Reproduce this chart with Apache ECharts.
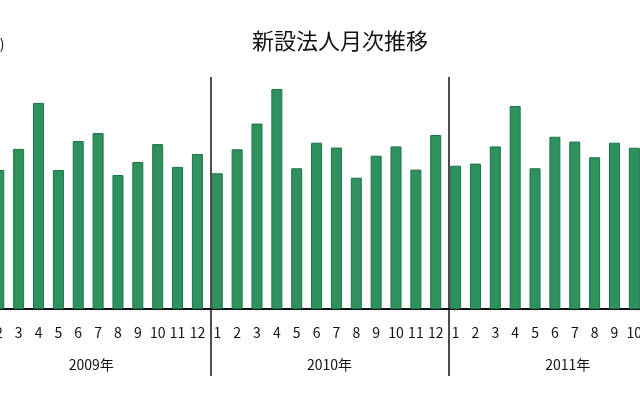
<!DOCTYPE html>
<html lang="ja">
<head>
    <meta charset="UTF-8">
    <title>新設法人月次推移</title>
    <style>
        html, body { margin: 0; padding: 0; background: #fff; }
        #chart { width: 640px; height: 400px; }
    </style>
</head>
<body>
<div id="chart"></div>

<script src="https://cdn.jsdelivr.net/npm/echarts@6/dist/echarts.min.js"></script>
<script>
    // values (件); months hidden by the crop are null
    let years = ['2009年', '2010年', '2011年'];
    let months = ['1', '2', '3', '4', '5', '6', '7', '8', '9', '10', '11', '12'];
    let counts2009 = [null, 7190, 8280, 10660, 7190, 8690, 9100, 6930, 7600, 8530, 7350, 8020];
    let counts2010 = [7020, 8260, 9590, 11380, 7280, 8600, 8350, 6790, 7930, 8410, 7210, 9000];
    let counts2011 = [7410, 7520, 8410, 10500, 7280, 8910, 8660, 7850, 8600, 8340, null, null];

    let labels = [];
    years.forEach(() => months.forEach(m => labels.push(m)));
    let values = counts2009.concat(counts2010, counts2011);

    let chart = echarts.init(document.getElementById('chart'));

    let option = {
        animation: false,
        textStyle: { fontFamily: 'Noto Sans CJK JP' },
        title: {
            text: '新設法人月次推移',
            left: 247,
            top: 25,
            textStyle: { fontSize: 22, fontWeight: 'normal', color: '#111' }
        },
        // the picture is a crop: the grid runs past both edges
        grid: [
            { left: -31, right: -44, top: 77, bottom: 91, containLabel: false, outerBoundsMode: 'none' },
            { left: -28, right: -47, top: 77, bottom: 91, containLabel: false, outerBoundsMode: 'none' }
        ],
        xAxis: [{
            type: 'category',
            gridIndex: 0,
            data: labels,
            axisLine: { lineStyle: { color: '#111', width: 2 } },
            axisTick: { show: false },
            axisLabel: {
                interval: 0,
                margin: 17,
                fontSize: 14,
                color: '#111'
            }
        }, {
            type: 'category',
            gridIndex: 1,
            data: years,
            axisLine: { show: false },
            axisTick: { show: true, length: 67, lineStyle: { color: '#111', width: 1.5 } },
            splitLine: { show: true, lineStyle: { color: '#111', width: 1.5 } },
            axisLabel: { margin: 49, fontSize: 14, color: '#111' }
        }],
        yAxis: [{
            type: 'value',
            gridIndex: 0,
            min: 0,
            max: 12000,
            name: '(件)',
            nameLocation: 'end',
            nameGap: 26,
            nameTextStyle: { fontSize: 14, color: '#111', align: 'left', padding: [0, 0, 0, 12] },
            axisLine: { show: false },
            axisTick: { show: false },
            axisLabel: { show: false },
            splitLine: { show: false }
        }, {
            type: 'value',
            gridIndex: 1,
            show: false
        }],
        series: [{
            type: 'bar',
            xAxisIndex: 0,
            yAxisIndex: 0,
            data: values,
            barWidth: 11,
            itemStyle: {
                color: '#2f915e',
                borderColor: '#1d7447',
                borderWidth: 1
            }
        }]
    };

    chart.setOption(option);
</script>
</body>
</html>
